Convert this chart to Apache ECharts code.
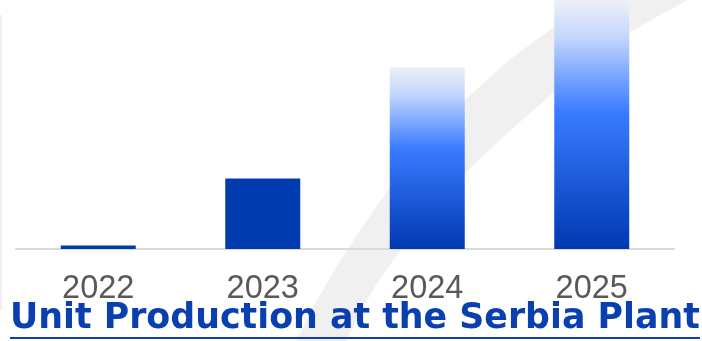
<!DOCTYPE html>
<html>
<head>
<meta charset="utf-8">
<script src="https://cdn.jsdelivr.net/npm/echarts@6/dist/echarts.min.js"></script>
<style>
  html, body { margin: 0; padding: 0; background: #ffffff; }
  #chart { width: 702px; height: 341px; }
</style>
</head>
<body>
<div id="chart"></div>
<script>
// Annual unit production, indexed (2025 = 100)
const years = ['2022', '2023', '2024', '2025'];
const production = [1.4, 28.3, 73.1, 100];
const titleText = 'Unit Production at the Serbia Plant';

const chart = echarts.init(document.getElementById('chart'), null, { renderer: 'canvas' });

const solidFill = '#003cb0';
const fadeFill = {
  type: 'linear', x: 0, y: 0, x2: 0, y2: 1,
  colorStops: [
    { offset: 0.00, color: '#eef0f5' },
    { offset: 0.15, color: '#c3d6fc' },
    { offset: 0.33, color: '#6f9fff' },
    { offset: 0.45, color: '#3a7bff' },
    { offset: 0.70, color: '#1f5ddc' },
    { offset: 1.00, color: '#0038b0' }
  ]
};

// actual years are solid, later years fade upward
const barData = production.map((v, i) => ({
  value: v,
  itemStyle: { color: i < 2 ? solidFill : fadeFill }
}));

// outline of the light swoosh behind the bars
const swoosh = [
  [296, 341], [316, 302], [338, 264], [363, 226], [388, 190], [425, 142], [465, 100],
  [508, 61], [550, 30], [592, 0],
  [688, 0], [660, 15], [630, 32], [592, 60], [553, 93], [505, 135], [465, 173],
  [440, 200], [418, 226], [396, 256], [376, 285], [360, 312], [346, 341]
];

chart.setOption({
  animation: false,
  backgroundColor: '#ffffff',
  grid: { left: 16, right: 28, top: 0, bottom: 92, containLabel: false },
  xAxis: {
    type: 'category',
    data: years,
    axisLine: { show: true, lineStyle: { color: '#d9d9d9', width: 2 } },
    axisTick: { show: false },
    axisLabel: {
      color: '#595959',
      fontFamily: 'Liberation Sans, Arial, sans-serif',
      fontSize: 32.5,
      margin: 24
    }
  },
  yAxis: {
    type: 'value',
    min: 0,
    max: 100,
    show: false,
    splitLine: { show: false }
  },
  graphic: [
    {
      type: 'polygon',
      z: -10,
      silent: true,
      shape: { points: swoosh },
      style: { fill: '#f0f0f0' }
    },
    {
      type: 'rect',
      z: -10,
      silent: true,
      shape: { x: 0, y: 15, width: 2, height: 295 },
      style: { fill: '#f0f0f4' }
    },
    {
      type: 'text',
      left: 10,
      top: 301,
      z: 10,
      style: {
        text: titleText,
        fill: '#0a3fb0',
        font: 'bold 34.8px "DejaVu Sans", Verdana, sans-serif'
      }
    },
    {
      type: 'rect',
      z: 10,
      silent: true,
      shape: { x: 10, y: 337, width: 690, height: 2 },
      style: { fill: '#0a3fb0' }
    }
  ],
  series: [
    {
      type: 'bar',
      data: barData,
      barWidth: 75,
      itemStyle: { borderWidth: 0 }
    }
  ]
});
</script>
</body>
</html>
